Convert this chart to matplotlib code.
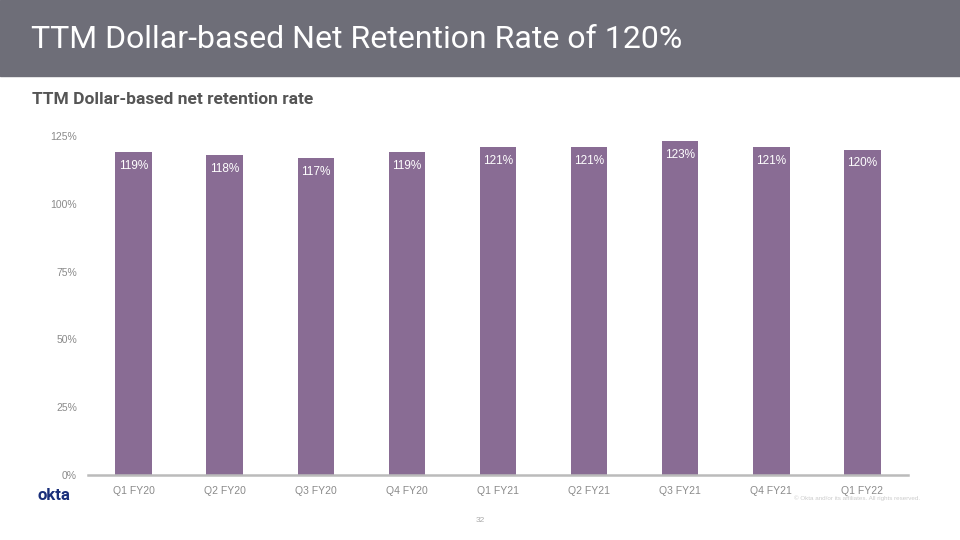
import matplotlib
matplotlib.use("Agg")
import matplotlib.pyplot as plt
from matplotlib.patches import Rectangle

quarters = ["Q1 FY20", "Q2 FY20", "Q3 FY20", "Q4 FY20", "Q1 FY21",
            "Q2 FY21", "Q3 FY21", "Q4 FY21", "Q1 FY22"]
retention = [119, 118, 117, 119, 121, 121, 123, 121, 120]
y_ticks = [0, 25, 50, 75, 100, 125]

BAR_COLOR = "#896c94"
HEADER_COLOR = "#6e6e78"
TICK_COLOR = "#8a8a8a"

plt.rcParams["font.family"] = ["Liberation Sans", "DejaVu Sans"]

fig = plt.figure(figsize=(9.6, 5.4), dpi=100)
W, H = 960, 540

# header band
fig.patches.append(Rectangle((0, 1 - 76 / H), 1, 76 / H, transform=fig.transFigure,
                             color=HEADER_COLOR, zorder=0))
fig.text(31 / W, 1 - 40 / H, "TTM Dollar-based Net Retention Rate of 120%",
         color="white", fontsize=23, family=["Roboto", "DejaVu Sans"],
         va="center", ha="left")
fig.text(32 / W, 1 - 100 / H, "TTM Dollar-based net retention rate",
         color="#555555", fontsize=12.5, fontweight="bold",
         family=["Roboto", "DejaVu Sans"], va="center", ha="left")

ax = fig.add_axes([88 / W, (H - 475) / H, 820 / W, (475 - 136) / H])
x = range(len(quarters))
bars = ax.bar(x, retention, width=0.4, color=BAR_COLOR, zorder=2)
for b, v in zip(bars, retention):
    ax.annotate(f"{v}%", (b.get_x() + b.get_width() / 2, v),
                xytext=(0, -10), textcoords="offset points",
                ha="center", va="center", color="white", fontsize=8.5)

ax.set_xlim(-0.5, len(quarters) - 0.5)
ax.set_ylim(0, 125)
ax.set_yticks(y_ticks)
ax.set_yticklabels([f"{t}%" for t in y_ticks])
ax.set_xticks(list(x))
ax.set_xticklabels(quarters)
ax.tick_params(axis="both", length=0, colors=TICK_COLOR, labelsize=7.5)
ax.tick_params(axis="y", pad=8)
ax.tick_params(axis="x", pad=8)
for s in ["top", "right", "left"]:
    ax.spines[s].set_visible(False)
ax.spines["bottom"].set_color("#bbbbbb")
ax.spines["bottom"].set_linewidth(1.8)
ax.spines["bottom"].set_zorder(3)

# footer
fig.text(38 / W, 1 - 496 / H, "okta", color="#1a2f7a", fontsize=12,
         fontweight="bold", family=["Roboto", "DejaVu Sans"],
         va="center", ha="left")
fig.text(920 / W, 1 - 498 / H, "\u00a9 Okta and/or its affiliates. All rights reserved.",
         color="#cccccc", fontsize=4.5, ha="right", va="center")
fig.text(480 / W, 1 - 520 / H, "32", color="#aaaaaa", fontsize=6,
         ha="center", va="center")

fig.savefig("out.png", dpi=100)
